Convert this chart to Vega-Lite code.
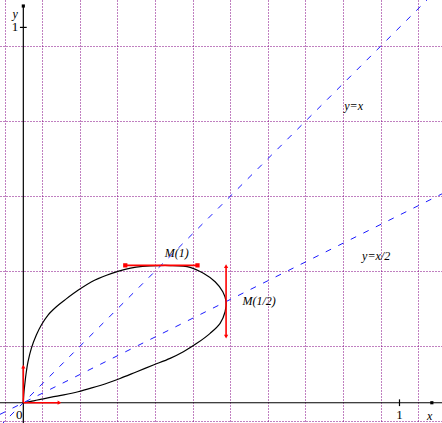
{
  "$schema": "https://vega.github.io/schema/vega-lite/v6.json",
  "width": 442,
  "height": 423,
  "padding": 0,
  "autosize": "none",
  "background": "white",
  "config": {
    "view": {"stroke": null},
    "axis": {
      "grid": true, "gridColor": "#800080", "gridDash": [1, 2], "gridOpacity": 1, "gridWidth": 1,
      "labels": false, "ticks": false, "domain": false, "title": null
    }
  },
  "datasets": {
    "curve": [
      {"o": 1, "x": 0, "y": 0},
      {"o": 2, "x": 0.0012, "y": 0.022},
      {"o": 3, "x": 0.0037, "y": 0.0471},
      {"o": 4, "x": 0.008, "y": 0.0826},
      {"o": 5, "x": 0.0125, "y": 0.1092},
      {"o": 6, "x": 0.0213, "y": 0.1449},
      {"o": 7, "x": 0.0346, "y": 0.1803},
      {"o": 8, "x": 0.0479, "y": 0.207},
      {"o": 9, "x": 0.0657, "y": 0.2336},
      {"o": 10, "x": 0.0878, "y": 0.2557},
      {"o": 11, "x": 0.1101, "y": 0.2736},
      {"o": 12, "x": 0.1463, "y": 0.3002},
      {"o": 13, "x": 0.1907, "y": 0.3269},
      {"o": 14, "x": 0.2351, "y": 0.3447},
      {"o": 15, "x": 0.2705, "y": 0.3555},
      {"o": 16, "x": 0.3, "y": 0.3612},
      {"o": 17, "x": 0.337, "y": 0.3645},
      {"o": 18, "x": 0.3902, "y": 0.3655},
      {"o": 19, "x": 0.4434, "y": 0.3607},
      {"o": 20, "x": 0.4787, "y": 0.3447},
      {"o": 21, "x": 0.5098, "y": 0.3223},
      {"o": 22, "x": 0.5303, "y": 0.2957},
      {"o": 23, "x": 0.5391, "y": 0.269},
      {"o": 24, "x": 0.5364, "y": 0.2424},
      {"o": 25, "x": 0.5231, "y": 0.2115},
      {"o": 26, "x": 0.4966, "y": 0.1849},
      {"o": 27, "x": 0.4612, "y": 0.1582},
      {"o": 28, "x": 0.4255, "y": 0.1359},
      {"o": 29, "x": 0.3902, "y": 0.1183},
      {"o": 30, "x": 0.3457, "y": 0.1004},
      {"o": 31, "x": 0.3016, "y": 0.0826},
      {"o": 32, "x": 0.2572, "y": 0.0646},
      {"o": 33, "x": 0.2261, "y": 0.0533},
      {"o": 34, "x": 0.1819, "y": 0.0395},
      {"o": 35, "x": 0.1455, "y": 0.0293},
      {"o": 36, "x": 0.1075, "y": 0.021},
      {"o": 37, "x": 0.0745, "y": 0.015},
      {"o": 38, "x": 0.0489, "y": 0.0095},
      {"o": 39, "x": 0.0303, "y": 0.0058},
      {"o": 40, "x": 0.0133, "y": 0.0022},
      {"o": 41, "x": 0, "y": 0}
    ],
    "asymptotes": [
      {"name": "y=x", "x1": -0.062, "y1": -0.062, "x2": 1.113, "y2": 1.113},
      {"name": "y=x/2", "x1": -0.062, "y1": -0.031, "x2": 1.113, "y2": 0.5565}
    ],
    "axes": [
      {"name": "xaxis", "x1": -0.062, "y1": 0, "x2": 1.113, "y2": 0},
      {"name": "yaxis", "x1": 0, "y1": -0.054, "x2": 0, "y2": 1.057},
      {"name": "xtick", "x1": 1, "y1": -0.009, "x2": 1, "y2": 0.009},
      {"name": "ytick", "x1": -0.009, "y1": 1, "x2": 0.009, "y2": 1}
    ],
    "axisEnds": [
      {"x": 1.086, "y": 0},
      {"x": 0, "y": 1.057}
    ],
    "vectors": [
      {"name": "v0x", "x1": 0, "y1": 0, "x2": 0.096, "y2": 0},
      {"name": "v0y", "x1": 0, "y1": 0, "x2": 0, "y2": 0.096},
      {"name": "t1", "x1": 0.271, "y1": 0.366, "x2": 0.463, "y2": 0.366},
      {"name": "thalf", "x1": 0.539, "y1": 0.176, "x2": 0.539, "y2": 0.364}
    ],
    "vectorEnds": [
      {"x": 0.096, "y": 0, "s": "triangle-right"},
      {"x": 0, "y": 0.096, "s": "triangle-up"},
      {"x": 0.271, "y": 0.366, "s": "square"},
      {"x": 0.463, "y": 0.366, "s": "square"},
      {"x": 0.539, "y": 0.364, "s": "triangle-up"},
      {"x": 0.539, "y": 0.176, "s": "triangle-down"}
    ],
    "italicLabels": [
      {"x": 0.878, "y": 0.79, "t": "y=x"},
      {"x": 0.938, "y": 0.391, "t": "y=x/2"},
      {"x": 0.408, "y": 0.4, "t": "M(1)"},
      {"x": 0.627, "y": 0.271, "t": "M(1/2)"},
      {"x": 1.08, "y": -0.036, "t": "x"},
      {"x": -0.022, "y": 1.036, "t": "y"}
    ],
    "plainLabels": [
      {"x": 1, "y": -0.033, "t": "1"},
      {"x": -0.011, "y": -0.033, "t": "0"},
      {"x": -0.022, "y": 1, "t": "1"}
    ]
  },
  "layer": [
    {
      "data": {"name": "curve"},
      "mark": {"type": "line", "color": "black", "strokeWidth": 1.2, "interpolate": "catmull-rom", "clip": true},
      "encoding": {
        "x": {
          "field": "x", "type": "quantitative",
          "scale": {"domain": [-0.062, 1.113], "nice": false, "zero": false},
          "axis": {
            "values": [-0.05, 0, 0.05, 0.1, 0.15, 0.2, 0.25, 0.3, 0.35, 0.4, 0.45, 0.5, 0.55, 0.6, 0.65, 0.7, 0.75, 0.8, 0.85, 0.9, 0.95, 1, 1.05, 1.1]
          }
        },
        "y": {
          "field": "y", "type": "quantitative",
          "scale": {"domain": [-0.054, 1.073], "nice": false, "zero": false},
          "axis": {
            "values": [-0.05, 0, 0.05, 0.1, 0.15, 0.2, 0.25, 0.3, 0.35, 0.4, 0.45, 0.5, 0.55, 0.6, 0.65, 0.7, 0.75, 0.8, 0.85, 0.9, 0.95, 1, 1.05]
          }
        },
        "order": {"field": "o", "type": "quantitative"}
      }
    },
    {
      "data": {"name": "asymptotes"},
      "mark": {"type": "rule", "color": "#1a1aff", "strokeWidth": 1, "strokeDash": [6, 8], "clip": true},
      "encoding": {
        "x": {"field": "x1", "type": "quantitative"},
        "y": {"field": "y1", "type": "quantitative"},
        "x2": {"field": "x2"},
        "y2": {"field": "y2"}
      }
    },
    {
      "data": {"name": "axes"},
      "mark": {"type": "rule", "color": "black", "strokeWidth": 1.2},
      "encoding": {
        "x": {"field": "x1", "type": "quantitative"},
        "y": {"field": "y1", "type": "quantitative"},
        "x2": {"field": "x2"},
        "y2": {"field": "y2"}
      }
    },
    {
      "data": {"name": "axisEnds"},
      "mark": {"type": "point", "shape": "square", "filled": true, "color": "black", "size": 10, "opacity": 1},
      "encoding": {
        "x": {"field": "x", "type": "quantitative"},
        "y": {"field": "y", "type": "quantitative"}
      }
    },
    {
      "data": {"name": "vectors"},
      "mark": {"type": "rule", "color": "#ff0000", "strokeWidth": 1.6},
      "encoding": {
        "x": {"field": "x1", "type": "quantitative"},
        "y": {"field": "y1", "type": "quantitative"},
        "x2": {"field": "x2"},
        "y2": {"field": "y2"}
      }
    },
    {
      "data": {"name": "vectorEnds"},
      "mark": {"type": "point", "filled": true, "color": "#ff0000", "size": 18, "opacity": 1},
      "encoding": {
        "x": {"field": "x", "type": "quantitative"},
        "y": {"field": "y", "type": "quantitative"},
        "shape": {"field": "s", "type": "nominal", "scale": null, "legend": null}
      }
    },
    {
      "data": {"name": "italicLabels"},
      "mark": {"type": "text", "font": "Liberation Serif", "fontStyle": "italic", "fontSize": 12, "color": "black", "align": "center", "baseline": "middle"},
      "encoding": {
        "x": {"field": "x", "type": "quantitative"},
        "y": {"field": "y", "type": "quantitative"},
        "text": {"field": "t"}
      }
    },
    {
      "data": {"name": "plainLabels"},
      "mark": {"type": "text", "font": "Liberation Serif", "fontSize": 13, "color": "black", "align": "center", "baseline": "middle"},
      "encoding": {
        "x": {"field": "x", "type": "quantitative"},
        "y": {"field": "y", "type": "quantitative"},
        "text": {"field": "t"}
      }
    }
  ]
}
